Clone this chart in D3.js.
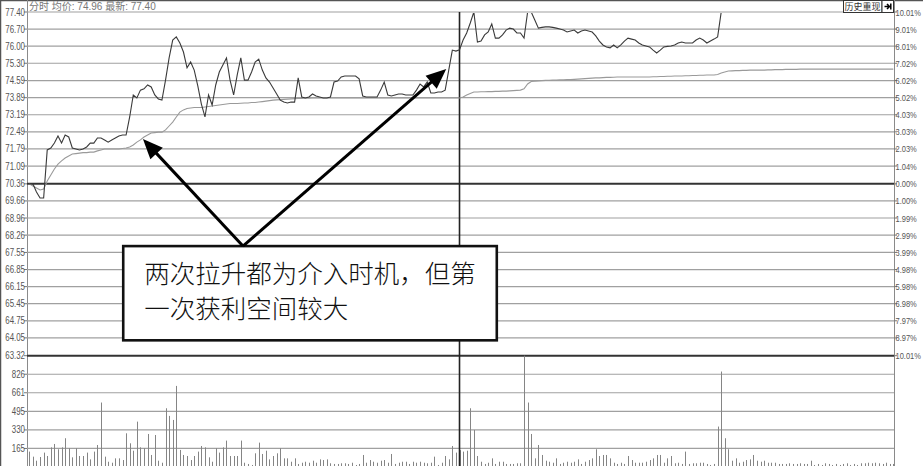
<!DOCTYPE html>
<html><head><meta charset="utf-8">
<script src="https://cdn.jsdelivr.net/npm/d3@7/dist/d3.min.js"></script>
<style>body{margin:0;background:#fff;overflow:hidden}svg{display:block}</style>
</head><body><svg id="c" width="923" height="466"></svg>
<script>
const preClose = 70.36;
const priceTicks = ["77.40","76.70","76.00","75.30","74.59","73.89","73.19","72.49","71.79","71.09","70.36","69.66","68.96","68.26","67.55","66.85","66.15","65.45","64.75","64.05","63.32"];
const pctTicks = ["10.01%","9.01%","8.01%","7.02%","6.02%","5.02%","4.03%","3.03%","2.03%","1.04%","0.00%","1.00%","1.99%","2.99%","3.99%","4.98%","5.98%","6.98%","7.97%","8.97%","10.01%"];
const volTicks = [826,661,495,330,165];
const volMax = 991;
const headerText = "分时 均价: 74.96 最新: 77.40";
const buttonText = "历史重现";
const noteLines = ["两次拉升都为介入时机，但第","一次获利空间较大"];

// minute price (242 points)
const price = [
70.36,70.36,70.03,69.78,69.78,71.75,71.83,72.03,72.32,72.03,
72.36,72.28,71.83,71.79,71.75,71.79,71.87,72.03,72.03,72.24,
72.24,72.16,72.07,72.16,72.24,72.32,72.36,72.36,73.10,74.00,
73.88,74.20,74.25,74.41,74.33,74.00,73.84,73.79,74.61,75.52,
76.25,76.38,76.13,75.76,75.11,75.35,75.02,74.37,73.63,73.10,
74.00,73.59,74.41,74.94,75.23,75.52,74.61,74.00,74.82,75.52,
74.61,74.61,74.94,75.35,75.47,75.02,74.70,74.53,74.29,74.04,
73.79,73.71,73.67,73.71,73.71,74.70,73.92,73.88,73.92,74.04,
73.96,73.92,73.88,73.88,73.92,74.53,74.57,74.74,74.78,74.78,
74.78,74.78,74.66,73.96,73.92,73.92,73.92,73.92,74.20,74.53,
74.00,73.96,74.00,74.04,74.04,74.00,74.00,74.00,74.20,74.45,
74.33,74.53,74.08,74.08,74.12,74.12,74.20,75.02,75.84,75.80,
75.85,76.25,76.54,76.95,77.40,76.17,76.21,76.46,76.58,76.91,
76.33,76.33,76.46,76.66,76.74,76.70,76.54,76.54,76.33,77.40,
77.40,77.07,76.74,76.77,76.79,76.79,76.77,76.74,76.70,76.66,
76.58,76.62,76.66,76.54,76.62,76.66,76.62,76.58,76.42,76.21,
76.05,75.97,75.93,76.05,75.93,76.05,76.21,76.33,76.29,76.25,
76.13,76.05,76.01,75.97,75.84,75.72,75.84,75.97,75.99,76.01,
76.05,76.13,76.17,76.13,76.13,76.13,76.25,76.33,76.25,76.13,
76.21,76.29,76.38,77.40,77.40,77.40,77.40,77.40,77.40,77.40,
77.40,77.40,77.40,77.40,77.40,77.40,77.40,77.40,77.40,77.40,
77.40,77.40,77.40,77.40,77.40,77.40,77.40,77.40,77.40,77.40,
77.40,77.40,77.40,77.40,77.40,77.40,77.40,77.40,77.40,77.40,
77.40,77.40,77.40,77.40,77.40,77.40,77.40,77.40,77.40,77.40,
77.40,77.40];

// average price (242 points)
const avgPrice = [
70.36,70.27,70.19,70.11,70.15,70.48,70.72,70.97,71.17,71.30,
71.42,71.50,71.58,71.60,71.62,71.64,71.64,71.66,71.66,71.71,
71.75,71.79,71.79,71.79,71.79,71.79,71.81,71.83,71.87,71.95,
72.07,72.16,72.28,72.36,72.44,72.46,72.48,72.48,72.57,72.73,
72.89,73.10,73.30,73.39,73.45,73.47,73.49,73.49,73.49,73.51,
73.53,73.55,73.57,73.59,73.61,73.63,73.65,73.65,73.65,73.66,
73.67,73.67,73.69,73.69,73.71,73.73,73.75,73.77,73.79,73.80,
73.81,73.82,73.83,73.84,73.85,73.86,73.86,73.87,73.87,73.88,
73.88,73.88,73.88,73.88,73.88,73.88,73.88,73.88,73.88,73.88,
73.88,73.88,73.88,73.88,73.88,73.88,73.88,73.88,73.88,73.88,
73.88,73.88,73.88,73.88,73.88,73.88,73.88,73.88,73.88,73.88,
73.88,73.88,73.88,73.88,73.88,73.88,73.88,73.88,73.88,73.88,
73.88,73.92,74.00,74.06,74.12,74.12,74.13,74.13,74.14,74.14,
74.15,74.15,74.16,74.16,74.17,74.18,74.19,74.20,74.25,74.45,
74.55,74.57,74.58,74.59,74.60,74.60,74.61,74.61,74.62,74.62,
74.63,74.63,74.64,74.65,74.66,74.67,74.68,74.69,74.70,74.70,
74.71,74.72,74.72,74.73,74.74,74.74,74.74,74.74,74.74,74.74,
74.74,74.74,74.74,74.74,74.75,74.75,74.76,74.76,74.77,74.77,
74.78,74.78,74.78,74.79,74.79,74.80,74.80,74.81,74.81,74.82,
74.82,74.82,74.84,74.90,74.94,74.98,74.99,75.00,75.00,75.01,
75.01,75.02,75.02,75.02,75.02,75.02,75.03,75.03,75.04,75.04,
75.04,75.05,75.05,75.05,75.05,75.06,75.06,75.06,75.06,75.06,
75.06,75.06,75.06,75.06,75.06,75.06,75.06,75.06,75.06,75.06,
75.06,75.06,75.06,75.06,75.06,75.06,75.06,75.06,75.06,75.06,
75.06,75.06];

// volume (242 bars)
const volume = [
137,92,56,89,128,98,175,205,158,175,
256,167,86,167,98,98,128,68,137,196,
574,92,47,38,77,77,62,300,211,145,
404,175,167,294,107,285,56,38,523,455,
419,722,152,107,98,62,98,137,187,175,
86,47,167,128,175,235,98,98,98,235,
38,27,18,122,217,116,145,68,98,122,
167,77,77,47,77,27,38,47,38,56,
38,68,62,68,33,27,27,33,33,27,
38,18,27,107,38,62,47,38,56,62,
38,116,27,38,47,47,27,47,38,47,
38,33,38,92,18,38,98,68,187,128,
150,137,145,523,330,98,47,27,38,77,
27,47,47,27,27,27,33,33,1000,574,
294,77,196,107,56,47,38,77,27,38,
47,38,47,68,27,47,62,77,158,98,
107,107,77,38,27,38,27,98,62,38,
38,38,47,62,77,107,107,38,77,98,
33,38,27,137,27,33,33,38,38,27,
18,27,360,850,256,158,56,77,38,47,
62,68,107,56,47,56,38,38,38,27,
27,27,33,27,27,33,27,27,56,18,
27,18,33,27,18,27,18,27,33,18,
27,18,33,33,38,33,38,33,27,38,
27,27];

// annotation anchors in data coordinates (minute index, price)
const noteBox = {i0: 26.2, i1: 130.4, pTop: 67.81, pBottom: 63.95};
const arrowBase = {i: 59.6, p: 67.81};
const arrowTips = [{i: 31.7, p: 72.20}, {i: 116.3, p: 75.06}];

const W = 923, H = 466, L = 27, R = 894;
const svg = d3.select("#c");
const x = d3.scaleLinear().domain([0, 241]).range([29.3, 893.3]);
const y = d3.scaleLinear().domain([63.32, 77.40]).range([355.7, 12]);
const yv = d3.scaleLinear().domain([0, volMax]).range([467, 355.7]).clamp(true);
const font = "'Liberation Sans', Arial, sans-serif";
const hfont = "'Liberation Sans', Arial, 'Noto Sans CJK SC', sans-serif";
const sx = 0.79; // the original axis font is narrow: squeeze glyphs horizontally

svg.append("rect").attr("width", W).attr("height", H).attr("fill", "#fff");
svg.append("defs").append("clipPath").attr("id", "plotclip")
  .append("rect").attr("x", L).attr("y", y(77.40) + 0.9).attr("width", R - L).attr("height", 400);

// frame
svg.append("line").attr("x1",0).attr("x2",W).attr("y1",0.5).attr("y2",0.5).attr("stroke","#555").attr("stroke-width",1.5);
svg.append("line").attr("x1",0.5).attr("x2",0.5).attr("y1",0).attr("y2",H).attr("stroke","#555").attr("stroke-width",1.5);
svg.append("line").attr("x1",L+0.5).attr("x2",L+0.5).attr("y1",0).attr("y2",H).attr("stroke","#8a8a8a");
svg.append("line").attr("x1",R+0.5).attr("x2",R+0.5).attr("y1",0).attr("y2",H).attr("stroke","#8a8a8a");

// price grid
const pt = priceTicks.map((t, k) => ({v: +t, t, pct: pctTicks[k]}));
svg.append("g").selectAll("line").data(pt).join("line")
  .attr("x1", L).attr("x2", R)
  .attr("y1", d => y(d.v)).attr("y2", d => y(d.v))
  .attr("stroke", d => (d.v === preClose || d.v === 63.32) ? "#333" : "#a0a0a0")
  .attr("stroke-width", d => (d.v === preClose || d.v === 63.32) ? 2 : 1.2);
// ticks
svg.append("g").selectAll("line").data(pt).join("line")
  .attr("x1", L-3).attr("x2", L).attr("y1", d => y(d.v)).attr("y2", d => y(d.v)).attr("stroke","#777");
svg.append("g").selectAll("line").data(pt).join("line")
  .attr("x1", R).attr("x2", R+3).attr("y1", d => y(d.v)).attr("y2", d => y(d.v)).attr("stroke","#777");
// labels
svg.append("g").selectAll("text").data(pt).join("text")
  .attr("transform", d => `translate(25,${y(d.v) + 3.5}) scale(${sx},1)`).attr("text-anchor","end")
  .attr("font-family", font).attr("font-size", 10).attr("fill", "#555").text(d => d.t);
svg.append("g").selectAll("text").data(pt).join("text")
  .attr("transform", d => `translate(${R+1.5},${y(d.v) + 3.5}) scale(${sx},1)`)
  .attr("font-family", font).attr("font-size", 9.5).attr("fill", "#555").text(d => d.pct);

// volume grid
svg.append("g").selectAll("line").data(volTicks).join("line")
  .attr("x1", L).attr("x2", R).attr("y1", d => yv(d)).attr("y2", d => yv(d))
  .attr("stroke", "#a0a0a0").attr("stroke-width", 1.2);
svg.append("g").selectAll("line").data(volTicks).join("line")
  .attr("x1", L-3).attr("x2", L).attr("y1", d => yv(d)).attr("y2", d => yv(d)).attr("stroke","#777");
svg.append("g").selectAll("text").data(volTicks).join("text")
  .attr("transform", d => `translate(25,${yv(d) + 3.5}) scale(${sx},1)`).attr("text-anchor","end")
  .attr("font-family", font).attr("font-size", 10).attr("fill", "#555").text(d => d);

// volume bars
svg.append("g").selectAll("line").data(volume).join("line")
  .attr("x1", (d,i) => Math.round(x(i)) + 0.5).attr("x2", (d,i) => Math.round(x(i)) + 0.5)
  .attr("y1", yv(0)).attr("y2", d => yv(d))
  .attr("stroke", "#858585").attr("stroke-width", 1);

// noon divider
svg.append("line").attr("x1", x(120)).attr("x2", x(120)).attr("y1", y(77.40)).attr("y2", H)
  .attr("stroke", "#222").attr("stroke-width", 1.6);

// average and price lines
const ln = d3.line().x((d,i) => x(i)).y(d => y(d));
const lines = svg.append("g").attr("clip-path", "url(#plotclip)");
lines.append("path").datum(avgPrice).attr("d", ln).attr("fill","none").attr("stroke","#9a9a9a").attr("stroke-width",1.1);
lines.append("path").datum(price).attr("d", ln).attr("fill","none").attr("stroke","#3a3a3a").attr("stroke-width",1.1);

// header
svg.append("text").attr("x", L+2).attr("y", 10).attr("font-family", hfont).attr("font-size", 10)
  .attr("fill", "#777").text(headerText);

// button
svg.append("rect").attr("x", 843.5).attr("y", 0.5).attr("width", 38.5).attr("height", 12).attr("fill","#fff").attr("stroke","#333");
svg.append("text").attr("x", 862.5).attr("y", 10).attr("text-anchor","middle").attr("font-family", hfont)
  .attr("font-size", 9).attr("fill","#333").text(buttonText);
svg.append("rect").attr("x", 882).attr("y", 0.5).attr("width", 11.5).attr("height", 12).attr("fill","#fff").attr("stroke","#333");
svg.append("path").attr("d","M884.5,6.5 h4 M887,4 l2.5,2.5 l-2.5,2.5 M890.8,3.5 v6").attr("stroke","#000").attr("stroke-width",1.5).attr("fill","none");

// annotation box
const bx0 = x(noteBox.i0), bx1 = x(noteBox.i1), by0 = y(noteBox.pTop), by1 = y(noteBox.pBottom);
svg.append("rect").attr("x", bx0).attr("y", by0).attr("width", bx1 - bx0).attr("height", by1 - by0)
  .attr("fill", "#fff").attr("stroke", "#111").attr("stroke-width", 2.6);
svg.append("g").selectAll("text").data(noteLines).join("text")
  .attr("x", bx0 + 21).attr("y", (d,k) => by0 + 37 + k * 35)
  .attr("font-family", "'Noto Sans CJK SC', sans-serif").attr("font-size", 25.5).attr("fill", "#111")
  .attr("font-weight", 300)
  .text(d => d);

// arrows
const bxp = x(arrowBase.i), byp = y(arrowBase.p);
arrowTips.forEach(t => {
  const tx = x(t.i), ty = y(t.p);
  const dx = tx - bxp, dy = ty - byp, len = Math.hypot(dx, dy);
  const ux = dx / len, uy = dy / len, px = -uy, py = ux;
  const hl = 20, hw = 8.5;
  svg.append("line").attr("x1", bxp).attr("y1", byp).attr("x2", tx - ux * (hl - 4)).attr("y2", ty - uy * (hl - 4))
    .attr("stroke", "#000").attr("stroke-width", 3);
  const bxh = tx - ux * hl, byh = ty - uy * hl;
  svg.append("path").attr("d", `M${tx},${ty} L${bxh + px*hw},${byh + py*hw} L${bxh - px*hw},${byh - py*hw} Z`)
    .attr("fill", "#000");
});
</script>
</body></html>
